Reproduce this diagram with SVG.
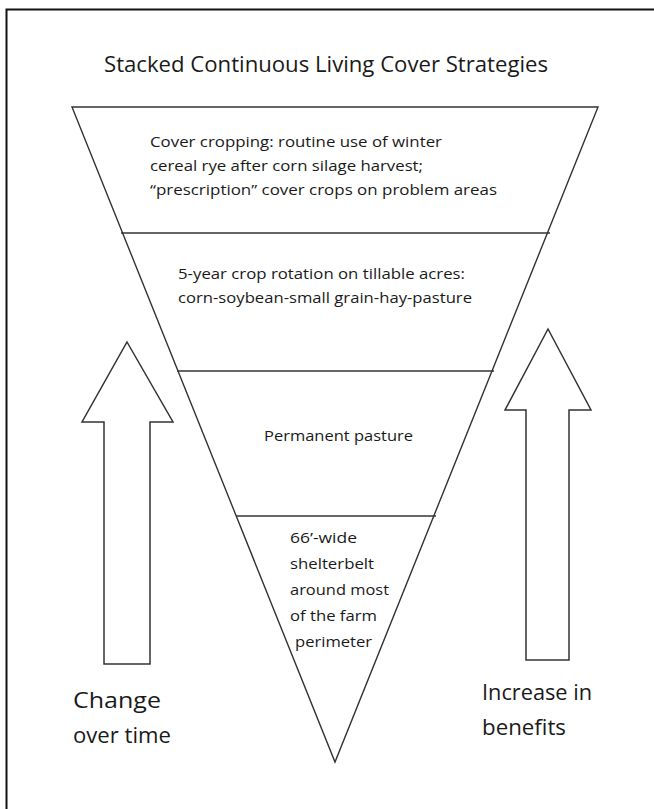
<svg xmlns="http://www.w3.org/2000/svg" width="654" height="809" viewBox="0 0 654 809">
<style>
.ln{stroke:#333;stroke-width:1.4;fill:none}
.ar{stroke:#333;stroke-width:1.5;fill:#fff;stroke-linejoin:miter}
text{font-family:"Open Sans","Liberation Sans",sans-serif;fill:#1a1a1a}
.t{font-size:15px}
.big{font-size:22px}
</style>
<rect x="0" y="0" width="654" height="809" fill="#fff"/>
<path d="M6.5 809 V9.5 H654" stroke="#111" stroke-width="2" fill="none"/>
<text id="title" x="104" y="72" font-size="22" textLength="444" lengthAdjust="spacingAndGlyphs">Stacked Continuous Living Cover Strategies</text>
<g id="triangle">
<polygon class="ln" points="72,107 598,107 335,762"/>
</g>
<g id="connectors">
<line class="ln" x1="121" y1="233" x2="550" y2="233"/>
<line class="ln" x1="177" y1="371" x2="494" y2="371"/>
<line class="ln" x1="236" y1="516" x2="436" y2="516"/>
</g>
<g id="tier1">
<text class="t" x="150" y="147" textLength="292" lengthAdjust="spacingAndGlyphs">Cover cropping: routine use of winter</text>
<text class="t" x="150" y="171" textLength="273" lengthAdjust="spacingAndGlyphs">cereal rye after corn silage harvest;</text>
<text class="t" x="150" y="195" textLength="347" lengthAdjust="spacingAndGlyphs">“prescription” cover crops on problem areas</text>
</g>
<g id="tier2">
<text class="t" x="178" y="279" textLength="287" lengthAdjust="spacingAndGlyphs">5-year crop rotation on tillable acres:</text>
<text class="t" x="178" y="303" textLength="294" lengthAdjust="spacingAndGlyphs">corn-soybean-small grain-hay-pasture</text>
</g>
<g id="tier3">
<text class="t" x="264" y="441" textLength="149" lengthAdjust="spacingAndGlyphs">Permanent pasture</text>
</g>
<g id="tier4">
<text class="t" x="290" y="543" textLength="67" lengthAdjust="spacingAndGlyphs">66’-wide</text>
<text class="t" x="290" y="569" textLength="84" lengthAdjust="spacingAndGlyphs">shelterbelt</text>
<text class="t" x="290" y="595" textLength="99" lengthAdjust="spacingAndGlyphs">around most</text>
<text class="t" x="290" y="621" textLength="87" lengthAdjust="spacingAndGlyphs">of the farm</text>
<text class="t" x="295" y="647" textLength="77" lengthAdjust="spacingAndGlyphs">perimeter</text>
</g>
<g id="arrow-left">
<polygon class="ar" points="127,342 173,422 150,422 150,664 104,664 104,422 82,422"/>
<text class="big" x="73" y="708" textLength="88" lengthAdjust="spacingAndGlyphs">Change</text>
<text class="big" x="73" y="743" textLength="98" lengthAdjust="spacingAndGlyphs">over time</text>
</g>
<g id="arrow-right">
<polygon class="ar" points="548,329 591,410 569,410 569,660 526,660 526,410 505,410"/>
<text class="big" x="482" y="700" textLength="110" lengthAdjust="spacingAndGlyphs">Increase in</text>
<text class="big" x="482" y="735" textLength="84" lengthAdjust="spacingAndGlyphs">benefits</text>
</g>
</svg>
